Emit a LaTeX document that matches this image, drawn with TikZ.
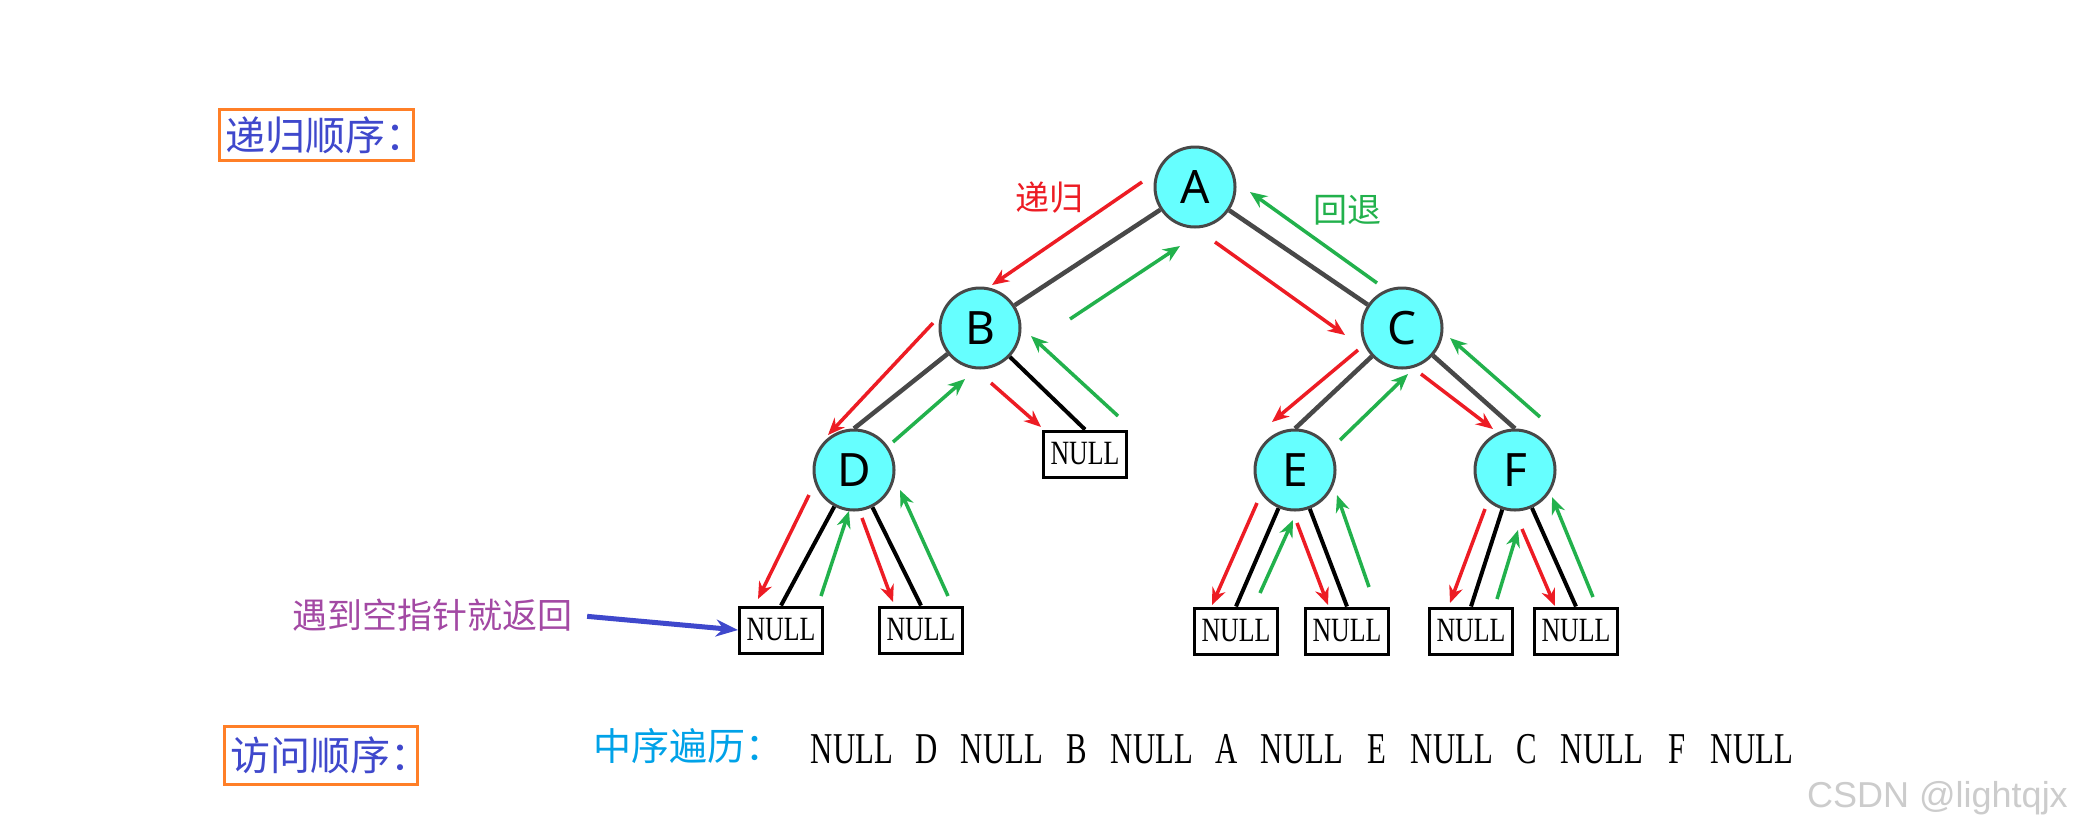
\documentclass[tikz,border=0pt]{standalone}
\usepackage{fontspec}
\setmainfont{Liberation Serif}
\newfontfamily\cjk{Noto Sans CJK SC}
\newfontfamily\nodefont{Noto Sans}
\newfontfamily\wmfont{Liberation Sans}
\usetikzlibrary{positioning,arrows.meta,backgrounds}

\definecolor{paintred}{RGB}{237,28,36}
\definecolor{paintgreen}{RGB}{34,177,76}
\definecolor{paintblue}{RGB}{63,72,204}
\definecolor{paintorange}{RGB}{255,127,39}
\definecolor{paintpurple}{RGB}{163,73,164}
\definecolor{paintsky}{RGB}{0,162,232}
\definecolor{nodecyan}{RGB}{102,255,255}
\definecolor{edgegrey}{RGB}{72,72,72}

\newcommand{\nulltext}{\scalebox{0.76}[1]{NULL}}

\begin{document}
\begin{tikzpicture}[x=1pt,y=-1pt,
tree node/.style={circle,draw=edgegrey,line width=3pt,fill=nodecyan,minimum size=80pt,inner sep=0pt,font=\nodefont\fontsize{46}{46}\selectfont},
null node/.style={rectangle,draw=black,line width=3pt,fill=white,minimum width=83pt,minimum height=46pt,inner sep=0pt,font=\fontsize{34}{34}\selectfont},
title box/.style={rectangle,draw=paintorange,line width=3pt,inner sep=0pt,text=paintblue,font=\cjk\fontsize{40}{40}\selectfont},
cjk label/.style={inner sep=0pt,font=\cjk\fontsize{#1}{#1}\selectfont},
seq text/.style={inner sep=0pt,anchor=base,font=\fontsize{44}{44}\selectfont},
tree edge/.style={draw=edgegrey,line width=4.5pt},
null edge/.style={draw=black,line width=4pt},
recur arrow/.style={paintred,line width=3.5pt,-{Stealth[length=17pt,width=14pt]}},
return arrow/.style={paintgreen,line width=3.5pt,-{Stealth[length=17pt,width=14pt]}}]
\useasboundingbox (0,0) rectangle (2074,831);

% tree
\node[tree node] (A) at (1195,187) {A};
\node[tree node] (B) at (980,328) {B};
\node[tree node] (C) at (1402,328) {C};
\node[tree node] (D) at (854,470) {D};
\node[tree node] (E) at (1295,470) {E};
\node[tree node] (F) at (1515,470) {F};
\node[null node] (nB) at (1085,454) {\nulltext};
\node[null node] (nD1) at (781,630) {\nulltext};
\node[null node] (nD2) at (921,630) {\nulltext};
\node[null node] (nE1) at (1236,631) {\nulltext};
\node[null node] (nE2) at (1347,631) {\nulltext};
\node[null node] (nF1) at (1471,631) {\nulltext};
\node[null node] (nF2) at (1576,631) {\nulltext};

\begin{scope}[on background layer]
\fill[white] (0,0) rectangle (2074,831);
\path[tree edge] (A) edge (B) edge (C)
(B) edge (D.north)
(C) edge (E.north) edge (F.north);
\path[null edge] (B) edge (nB.north)
(D) edge (nD1.north) edge (nD2.north)
(E) edge (nE1.north) edge (nE2.north)
(F) edge (nF1.north) edge (nF2.north);
\end{scope}

% going down
\draw[recur arrow] ([shift={(-53,-5)}]A.center) -- ([shift={(12,-43)}]B.center);
\draw[recur arrow] ([shift={(20,55)}]A.center) -- ([shift={(-57,7)}]C.center);
\draw[recur arrow] ([shift={(-47,-5)}]B.center) -- ([shift={(-26,-35)}]D.center);
\draw[recur arrow] ([shift={(11,55)}]B.center) -- ([shift={(-44,-27)}]nB.center);
\draw[recur arrow] ([shift={(-44,22)}]C.center) -- ([shift={(-23,-48)}]E.center);
\draw[recur arrow] ([shift={(19,46)}]C.center) -- ([shift={(-22,-41)}]F.center);
\draw[recur arrow] ([shift={(-45,25)}]D.center) -- ([shift={(-23,-31)}]nD1.center);
\draw[recur arrow] ([shift={(8,48)}]D.center) -- ([shift={(-28,-28)}]nD2.center);
\draw[recur arrow] ([shift={(-38,33)}]E.center) -- ([shift={(-24,-26)}]nE1.center);
\draw[recur arrow] ([shift={(2,53)}]E.center) -- ([shift={(-19,-26)}]nE2.center);
\draw[recur arrow] ([shift={(-30,39)}]F.center) -- ([shift={(-21,-28)}]nF1.center);
\draw[recur arrow] ([shift={(7,59)}]F.center) -- ([shift={(-21,-25)}]nF2.center);

% going back
\draw[return arrow] ([shift={(90,-9)}]B.center) -- ([shift={(-15,59)}]A.center);
\draw[return arrow] ([shift={(-25,-45)}]C.center) -- ([shift={(55,5)}]A.center);
\draw[return arrow] ([shift={(39,-28)}]D.center) -- ([shift={(-15,51)}]B.center);
\draw[return arrow] ([shift={(33,-38)}]nB.center) -- ([shift={(51,8)}]B.center);
\draw[return arrow] ([shift={(45,-30)}]E.center) -- ([shift={(6,46)}]C.center);
\draw[return arrow] ([shift={(25,-53)}]F.center) -- ([shift={(48,10)}]C.center);
\draw[return arrow] ([shift={(40,-34)}]nD1.center) -- ([shift={(-5,41)}]D.center);
\draw[return arrow] ([shift={(27,-34)}]nD2.center) -- ([shift={(46,20)}]D.center);
\draw[return arrow] ([shift={(24,-38)}]nE1.center) -- ([shift={(-2,50)}]E.center);
\draw[return arrow] ([shift={(22,-44)}]nE2.center) -- ([shift={(42,25)}]E.center);
\draw[return arrow] ([shift={(26,-32)}]nF1.center) -- ([shift={(3,60)}]F.center);
\draw[return arrow] ([shift={(17,-34)}]nF2.center) -- ([shift={(37,27)}]F.center);

% labels
\node[cjk label=34,text=paintred] (down) at (1049,198) {递归};
\node[cjk label=34,text=paintgreen] (up) at (1347,210) {回退};
\node[title box,minimum width=194pt,minimum height=51pt] (order1) at (316,135) {递归顺序\makebox[22pt][l]{：}};
\node[title box,minimum width=193pt,minimum height=58pt] (order2) at (321,755) {访问顺序\makebox[22pt][l]{：}};
\node[cjk label=35,text=paintpurple] (hint) at (432,615) {遇到空指针就返回};
\draw[paintblue,line width=5pt,shorten <=15pt,-{Stealth[length=22pt,width=17pt]}] (hint.east) -- (nD1.west);

\node[cjk label=38,text=paintsky,anchor=west] (inorder) at (593,746) {中序遍历：};
\foreach \t [count=\i from 0] in {NULL,D,NULL,B,NULL,A,NULL,E,NULL,C,NULL,F,NULL}
\node[seq text] (s\i) at (852+75*\i,763) {\scalebox{0.7}[1]{\t}};

\node[anchor=east,inner sep=0pt,text=gray!40,font=\wmfont\fontsize{36}{36}\selectfont] (mark) at (2068,798) {CSDN @lightqjx};
\end{tikzpicture}
\end{document}
